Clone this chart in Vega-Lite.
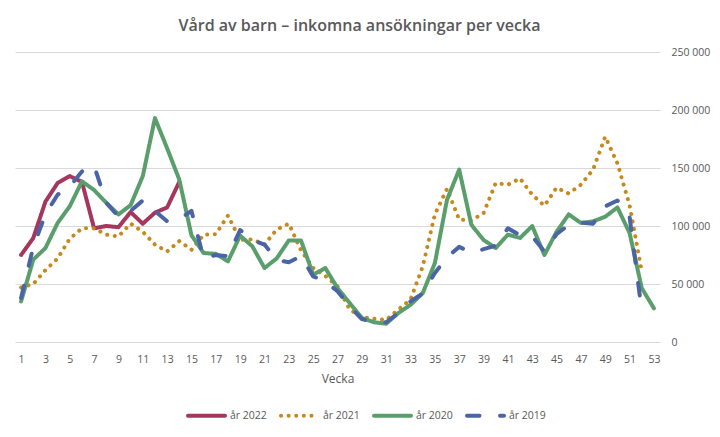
{
 "$schema": "https://vega.github.io/schema/vega-lite/v6.json",
 "width": 645,
 "height": 290,
 "autosize": {"type": "none"},
 "padding": {"left": 15, "top": 52, "right": 60, "bottom": 95},
 "background": "white",
 "title": {"text": "Vård av barn – inkomna ansökningar per vecka", "anchor": "middle", "frame": "group", "dx": 22, "offset": -3, "baseline": "bottom", "font": "Open Sans", "fontSize": 16, "fontWeight": 600, "color": "#595959"},
 "config": {
  "view": {"stroke": null},
  "locale": {"number": {"decimal": ",", "thousands": " ", "grouping": [3], "currency": ["", " kr"]}}
 },
 "data": {"values": [
  {"serie": "år 2022", "vecka": 1, "antal": 75000}, {"serie": "år 2022", "vecka": 2, "antal": 89600}, {"serie": "år 2022", "vecka": 3, "antal": 121000}, {"serie": "år 2022", "vecka": 4, "antal": 137000}, {"serie": "år 2022", "vecka": 5, "antal": 143000}, {"serie": "år 2022", "vecka": 6, "antal": 138000}, {"serie": "år 2022", "vecka": 7, "antal": 98000}, {"serie": "år 2022", "vecka": 8, "antal": 100000}, {"serie": "år 2022", "vecka": 9, "antal": 99000}, {"serie": "år 2022", "vecka": 10, "antal": 112000}, {"serie": "år 2022", "vecka": 11, "antal": 102000}, {"serie": "år 2022", "vecka": 12, "antal": 111500}, {"serie": "år 2022", "vecka": 13, "antal": 116000}, {"serie": "år 2022", "vecka": 14, "antal": 138000},
  {"serie": "år 2021", "vecka": 1, "antal": 47000}, {"serie": "år 2021", "vecka": 2, "antal": 50000}, {"serie": "år 2021", "vecka": 3, "antal": 62000}, {"serie": "år 2021", "vecka": 4, "antal": 72000}, {"serie": "år 2021", "vecka": 5, "antal": 89000}, {"serie": "år 2021", "vecka": 6, "antal": 98000}, {"serie": "år 2021", "vecka": 7, "antal": 98000}, {"serie": "år 2021", "vecka": 8, "antal": 92500}, {"serie": "år 2021", "vecka": 9, "antal": 91000}, {"serie": "år 2021", "vecka": 10, "antal": 102000}, {"serie": "år 2021", "vecka": 11, "antal": 95000}, {"serie": "år 2021", "vecka": 12, "antal": 84000}, {"serie": "år 2021", "vecka": 13, "antal": 78000}, {"serie": "år 2021", "vecka": 14, "antal": 87000}, {"serie": "år 2021", "vecka": 15, "antal": 79500}, {"serie": "år 2021", "vecka": 16, "antal": 92500}, {"serie": "år 2021", "vecka": 17, "antal": 93000}, {"serie": "år 2021", "vecka": 18, "antal": 109000}, {"serie": "år 2021", "vecka": 19, "antal": 88000}, {"serie": "år 2021", "vecka": 20, "antal": 88500}, {"serie": "år 2021", "vecka": 21, "antal": 84000}, {"serie": "år 2021", "vecka": 22, "antal": 97000}, {"serie": "år 2021", "vecka": 23, "antal": 102000}, {"serie": "år 2021", "vecka": 24, "antal": 79000}, {"serie": "år 2021", "vecka": 25, "antal": 63800}, {"serie": "år 2021", "vecka": 26, "antal": 57000}, {"serie": "år 2021", "vecka": 27, "antal": 48000}, {"serie": "år 2021", "vecka": 28, "antal": 28000}, {"serie": "år 2021", "vecka": 29, "antal": 21500}, {"serie": "år 2021", "vecka": 30, "antal": 20000}, {"serie": "år 2021", "vecka": 31, "antal": 19000}, {"serie": "år 2021", "vecka": 32, "antal": 28000}, {"serie": "år 2021", "vecka": 33, "antal": 36500}, {"serie": "år 2021", "vecka": 34, "antal": 65000}, {"serie": "år 2021", "vecka": 35, "antal": 110000}, {"serie": "år 2021", "vecka": 36, "antal": 132000}, {"serie": "år 2021", "vecka": 37, "antal": 105500}, {"serie": "år 2021", "vecka": 38, "antal": 105000}, {"serie": "år 2021", "vecka": 39, "antal": 111000}, {"serie": "år 2021", "vecka": 40, "antal": 137000}, {"serie": "år 2021", "vecka": 41, "antal": 135600}, {"serie": "år 2021", "vecka": 42, "antal": 141000}, {"serie": "år 2021", "vecka": 43, "antal": 127000}, {"serie": "år 2021", "vecka": 44, "antal": 117500}, {"serie": "år 2021", "vecka": 45, "antal": 133000}, {"serie": "år 2021", "vecka": 46, "antal": 128000}, {"serie": "år 2021", "vecka": 47, "antal": 135600}, {"serie": "år 2021", "vecka": 48, "antal": 148600}, {"serie": "år 2021", "vecka": 49, "antal": 177000}, {"serie": "år 2021", "vecka": 50, "antal": 154000}, {"serie": "år 2021", "vecka": 51, "antal": 118000}, {"serie": "år 2021", "vecka": 52, "antal": 61000},
  {"serie": "år 2020", "vecka": 1, "antal": 35000}, {"serie": "år 2020", "vecka": 2, "antal": 71000}, {"serie": "år 2020", "vecka": 3, "antal": 81000}, {"serie": "år 2020", "vecka": 4, "antal": 102600}, {"serie": "år 2020", "vecka": 5, "antal": 117000}, {"serie": "år 2020", "vecka": 6, "antal": 138500}, {"serie": "år 2020", "vecka": 7, "antal": 131000}, {"serie": "år 2020", "vecka": 8, "antal": 120000}, {"serie": "år 2020", "vecka": 9, "antal": 110000}, {"serie": "år 2020", "vecka": 10, "antal": 118000}, {"serie": "år 2020", "vecka": 11, "antal": 143000}, {"serie": "år 2020", "vecka": 12, "antal": 193000}, {"serie": "år 2020", "vecka": 13, "antal": 167000}, {"serie": "år 2020", "vecka": 14, "antal": 140000}, {"serie": "år 2020", "vecka": 15, "antal": 92000}, {"serie": "år 2020", "vecka": 16, "antal": 76700}, {"serie": "år 2020", "vecka": 17, "antal": 76000}, {"serie": "år 2020", "vecka": 18, "antal": 69500}, {"serie": "år 2020", "vecka": 19, "antal": 91700}, {"serie": "år 2020", "vecka": 20, "antal": 82500}, {"serie": "år 2020", "vecka": 21, "antal": 63800}, {"serie": "år 2020", "vecka": 22, "antal": 72000}, {"serie": "år 2020", "vecka": 23, "antal": 87600}, {"serie": "år 2020", "vecka": 24, "antal": 87600}, {"serie": "år 2020", "vecka": 25, "antal": 58000}, {"serie": "år 2020", "vecka": 26, "antal": 63800}, {"serie": "år 2020", "vecka": 27, "antal": 46500}, {"serie": "år 2020", "vecka": 28, "antal": 33600}, {"serie": "år 2020", "vecka": 29, "antal": 20700}, {"serie": "år 2020", "vecka": 30, "antal": 17000}, {"serie": "år 2020", "vecka": 31, "antal": 15800}, {"serie": "år 2020", "vecka": 32, "antal": 25000}, {"serie": "år 2020", "vecka": 33, "antal": 32000}, {"serie": "år 2020", "vecka": 34, "antal": 42000}, {"serie": "år 2020", "vecka": 35, "antal": 68000}, {"serie": "år 2020", "vecka": 36, "antal": 122700}, {"serie": "år 2020", "vecka": 37, "antal": 148600}, {"serie": "år 2020", "vecka": 38, "antal": 101000}, {"serie": "år 2020", "vecka": 39, "antal": 88000}, {"serie": "år 2020", "vecka": 40, "antal": 81000}, {"serie": "år 2020", "vecka": 41, "antal": 92500}, {"serie": "år 2020", "vecka": 42, "antal": 89700}, {"serie": "år 2020", "vecka": 43, "antal": 100000}, {"serie": "år 2020", "vecka": 44, "antal": 75000}, {"serie": "år 2020", "vecka": 45, "antal": 95000}, {"serie": "år 2020", "vecka": 46, "antal": 110000}, {"serie": "år 2020", "vecka": 47, "antal": 102600}, {"serie": "år 2020", "vecka": 48, "antal": 104000}, {"serie": "år 2020", "vecka": 49, "antal": 108000}, {"serie": "år 2020", "vecka": 50, "antal": 116000}, {"serie": "år 2020", "vecka": 51, "antal": 94000}, {"serie": "år 2020", "vecka": 52, "antal": 46500}, {"serie": "år 2020", "vecka": 53, "antal": 29000},
  {"serie": "år 2019", "vecka": 1, "antal": 38000}, {"serie": "år 2019", "vecka": 2, "antal": 82000}, {"serie": "år 2019", "vecka": 3, "antal": 110000}, {"serie": "år 2019", "vecka": 4, "antal": 127000}, {"serie": "år 2019", "vecka": 5, "antal": 134000}, {"serie": "år 2019", "vecka": 6, "antal": 147000}, {"serie": "år 2019", "vecka": 7, "antal": 152000}, {"serie": "år 2019", "vecka": 8, "antal": 120000}, {"serie": "år 2019", "vecka": 9, "antal": 108000}, {"serie": "år 2019", "vecka": 10, "antal": 113000}, {"serie": "år 2019", "vecka": 11, "antal": 122000}, {"serie": "år 2019", "vecka": 12, "antal": 113000}, {"serie": "år 2019", "vecka": 13, "antal": 104000}, {"serie": "år 2019", "vecka": 14, "antal": 106000}, {"serie": "år 2019", "vecka": 15, "antal": 113000}, {"serie": "år 2019", "vecka": 16, "antal": 72000}, {"serie": "år 2019", "vecka": 17, "antal": 75000}, {"serie": "år 2019", "vecka": 18, "antal": 74000}, {"serie": "år 2019", "vecka": 19, "antal": 96500}, {"serie": "år 2019", "vecka": 20, "antal": 88000}, {"serie": "år 2019", "vecka": 21, "antal": 84000}, {"serie": "år 2019", "vecka": 22, "antal": 71000}, {"serie": "år 2019", "vecka": 23, "antal": 68700}, {"serie": "år 2019", "vecka": 24, "antal": 74000}, {"serie": "år 2019", "vecka": 25, "antal": 56600}, {"serie": "år 2019", "vecka": 26, "antal": 52300}, {"serie": "år 2019", "vecka": 27, "antal": 43700}, {"serie": "år 2019", "vecka": 28, "antal": 30700}, {"serie": "år 2019", "vecka": 29, "antal": 19800}, {"serie": "år 2019", "vecka": 30, "antal": 17000}, {"serie": "år 2019", "vecka": 31, "antal": 17000}, {"serie": "år 2019", "vecka": 32, "antal": 25000}, {"serie": "år 2019", "vecka": 33, "antal": 35000}, {"serie": "år 2019", "vecka": 34, "antal": 42000}, {"serie": "år 2019", "vecka": 35, "antal": 59500}, {"serie": "år 2019", "vecka": 36, "antal": 73000}, {"serie": "år 2019", "vecka": 37, "antal": 82000}, {"serie": "år 2019", "vecka": 38, "antal": 77000}, {"serie": "år 2019", "vecka": 39, "antal": 80000}, {"serie": "år 2019", "vecka": 40, "antal": 83000}, {"serie": "år 2019", "vecka": 41, "antal": 98000}, {"serie": "år 2019", "vecka": 42, "antal": 92000}, {"serie": "år 2019", "vecka": 43, "antal": 91000}, {"serie": "år 2019", "vecka": 44, "antal": 78000}, {"serie": "år 2019", "vecka": 45, "antal": 93000}, {"serie": "år 2019", "vecka": 46, "antal": 101000}, {"serie": "år 2019", "vecka": 47, "antal": 103000}, {"serie": "år 2019", "vecka": 48, "antal": 102000}, {"serie": "år 2019", "vecka": 49, "antal": 117000}, {"serie": "år 2019", "vecka": 50, "antal": 122000}, {"serie": "år 2019", "vecka": 51, "antal": 108000}, {"serie": "år 2019", "vecka": 52, "antal": 27000}
 ]},
 "mark": {"type": "line", "strokeWidth": 4, "strokeCap": "round", "strokeJoin": "round"},
 "encoding": {
  "x": {"field": "vecka", "type": "quantitative", "scale": {"domain": [0.5, 53.5], "nice": false, "zero": false},
   "axis": {"values": [1, 3, 5, 7, 9, 11, 13, 15, 17, 19, 21, 23, 25, 27, 29, 31, 33, 35, 37, 39, 41, 43, 45, 47, 49, 51, 53], "title": "Vecka", "grid": false, "domain": false, "ticks": false, "labelPadding": 12, "labelFont": "Open Sans", "labelFontSize": 10.5, "labelColor": "#595959", "titleFont": "Open Sans", "titleFontWeight": "normal", "titleFontSize": 12, "titleColor": "#595959", "titlePadding": 9}},
  "y": {"field": "antal", "type": "quantitative", "scale": {"domain": [0, 250000], "nice": false},
   "axis": {"orient": "right", "values": [0, 50000, 100000, 150000, 200000, 250000], "format": ",d", "title": null, "domain": false, "ticks": false, "grid": true, "gridColor": "#D9D9D9", "gridWidth": 1, "labelPadding": 11, "labelFont": "Open Sans", "labelFontSize": 10.5, "labelColor": "#595959"}},
  "color": {"field": "serie", "type": "nominal", "sort": ["år 2022", "år 2021", "år 2020", "år 2019"],
   "scale": {"domain": ["år 2022", "år 2021", "år 2020", "år 2019"], "range": ["#A5365E", "#C8891C", "#5A9E6B", "#4A64A5"]},
   "legend": {"title": null, "orient": "none", "legendX": 171, "legendY": 343, "direction": "horizontal", "columns": 4, "padding": 0, "symbolType": "stroke", "symbolSize": 1369, "symbolStrokeWidth": 4, "labelOffset": 3, "columnPadding": 6, "labelFont": "Open Sans", "labelFontSize": 10.5, "labelColor": "#595959", "encode": {"symbols": {"update": {"strokeCap": {"value": "round"}}}}}},
  "strokeDash": {"field": "serie", "type": "nominal", "sort": ["år 2022", "år 2021", "år 2020", "år 2019"],
   "scale": {"domain": ["år 2022", "år 2021", "år 2020", "år 2019"], "range": [[1, 0], [0.1, 7.5], [1, 0], [12.5, 20.5]]},
   "legend": {"title": null, "orient": "none", "legendX": 171, "legendY": 343, "direction": "horizontal", "columns": 4, "padding": 0, "symbolType": "stroke", "symbolSize": 1369, "symbolStrokeWidth": 4, "labelOffset": 3, "columnPadding": 6, "labelFont": "Open Sans", "labelFontSize": 10.5, "labelColor": "#595959", "encode": {"symbols": {"update": {"strokeCap": {"value": "round"}}}}}}
 }
}
